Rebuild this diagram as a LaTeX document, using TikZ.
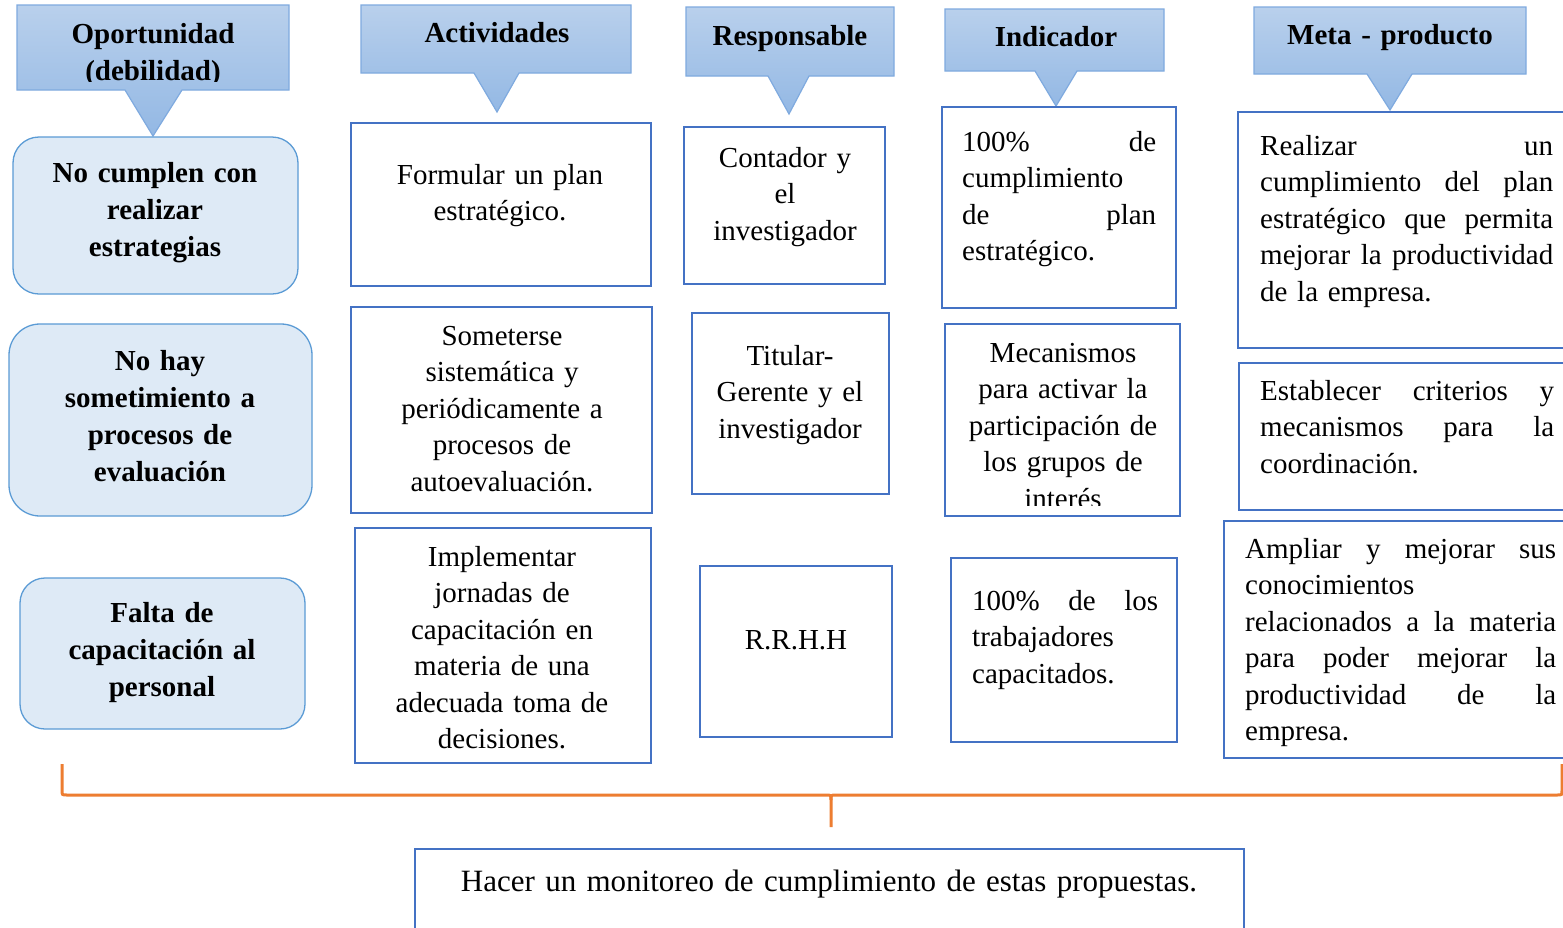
\documentclass[tikz,border=0pt]{standalone}
\usepackage{fontspec}
\setmainfont{Liberation Serif}
\usepackage{tikz}
\definecolor{hdrtop}{HTML}{B9D0EC}
\definecolor{hdrbot}{HTML}{93B8E4}
\definecolor{hdrline}{HTML}{7FAADF}
\definecolor{cardfill}{HTML}{DEEAF6}
\definecolor{cardline}{HTML}{5B9BD5}
\definecolor{boxline}{HTML}{4472C4}
\definecolor{bracecol}{HTML}{ED7D31}
\newcommand{\callout}[8]{\draw[hdr] (#1,#2) -- (#3,#2) -- (#3,#4) -- (#6,#4) -- (#7,#8) -- (#5,#4) -- (#1,#4) -- cycle;}

\begin{document}
\begin{tikzpicture}[x=1pt,y=-1pt,
  hdr/.style={draw=hdrline,line width=1.2pt,top color=hdrtop,bottom color=hdrbot},
  card/.style={draw=cardline,line width=1.3pt,fill=cardfill,rounded corners=26pt},
  box/.style={draw=boxline,line width=2.6pt},
  txt/.style={font=\fontsize{29}{36.5}\selectfont,inner sep=0pt,anchor=base,align=center,text width=290pt},
  ltxt/.style={txt,align=left,anchor=base west},
  hd/.style={txt,font=\fontsize{29}{37}\selectfont\bfseries}]
\useasboundingbox (0,0) rectangle (1563,927);
\clip (0,0) rectangle (1563,927);
\fill[white] (0,0) rectangle (1563,927);

\callout{17}{5}{289}{90}{125}{182}{153}{136}
\callout{361}{5}{631}{73}{474}{519}{497}{112}
\callout{686}{7}{894}{76}{768}{809}{789}{114}
\callout{945}{9}{1164}{71}{1035}{1077}{1056}{106}
\callout{1254}{7}{1526}{74}{1367}{1412}{1390}{110}
\begin{scope}
\clip (17,5) rectangle (289,81);
\node[hd] (opo) at (153,43) {Oportunidad\\(debilidad)};
\end{scope}
\node[hd] (act) at (497,42) {Actividades};
\node[hd] (res) at (790,45) {Responsable};
\node[hd] (ind) at (1056,46) {Indicador};
\node[hd] (met) at (1390,44) {Meta - producto};

\draw[card] (13,137) rectangle (298,294);
\node[hd] (deb1) at (155,182) {No cumplen con\\realizar\\estrategias};
\draw[card,rounded corners=31pt] (9,324) rectangle (312,516);
\node[hd] (deb2) at (160,370) {No hay\\sometimiento a\\procesos de\\evaluación};
\draw[card,rounded corners=25pt] (20,578) rectangle (305,729);
\node[hd] (deb3) at (162,622) {Falta de\\capacitación al\\personal};

\draw[box] (351,123) rectangle (651,286);
\node[txt] (act1) at (500,184) {Formular un plan\\estratégico.};
\draw[box] (351,307) rectangle (652,513);
\node[txt] (act2) at (502,345) {Someterse\\sistemática y\\periódicamente a\\procesos de\\autoevaluación.};
\draw[box] (355,528) rectangle (651,763);
\node[txt] (act3) at (502,566) {Implementar\\jornadas de\\capacitación en\\materia de una\\adecuada toma de\\decisiones.};

\draw[box] (684,127) rectangle (885,284);
\node[txt] (res1) at (785,167) {Contador y\\el\\investigador};
\draw[box] (692,313) rectangle (889,494);
\node[txt] (res2) at (790,365) {Titular-\\Gerente y el\\investigador};
\draw[box] (700,566) rectangle (892,737);
\node[txt] (res3) at (796,649) {R.R.H.H};

\draw[box] (942,107) rectangle (1176,308);
\node[ltxt,text width=194pt] (ind1) at (962,151) {100\%\hfill de\\cumplimiento\\de\hfill plan\\estratégico.};
\draw[box] (945,324) rectangle (1180,516);
\begin{scope}
\clip (945,324) rectangle (1180,505);
\node[txt] (ind2) at (1063,362) {Mecanismos\\para activar la\\participación de\\los grupos de\\interés};
\end{scope}
\draw[box] (951,558) rectangle (1177,742);
\node[ltxt,text width=186pt] (ind3) at (972,610) {100\%\hfill de\hfill los\\trabajadores\\capacitados.};

\draw[box] (1238,112) rectangle (1580,348);
\node[ltxt,text width=293pt] (met1) at (1260,155) {Realizar\hfill un\\cumplimiento\hfill del\hfill plan\\estratégico\hfill que\hfill permita\\mejorar\hfill la\hfill productividad\\de la empresa.};
\draw[box] (1239,363) rectangle (1580,510);
\node[ltxt,text width=294pt] (met2) at (1260,400) {Establecer\hfill criterios\hfill y\\mecanismos\hfill para\hfill la\\coordinación.};
\draw[box] (1224,521) rectangle (1580,758);
\node[ltxt,text width=311pt] (met3) at (1245,558) {Ampliar\hfill y\hfill mejorar\hfill sus\\conocimientos\\relacionados\hfill a\hfill la\hfill materia\\para\hfill poder\hfill mejorar\hfill la\\productividad\hfill de\hfill la\\empresa.};

\draw[bracecol,line width=3pt] (62,764) -- (62,790) .. controls (62,795) .. (67,795) -- (826,795)
  .. controls (831,795) .. (831,800) -- (831,827);
\draw[bracecol,line width=3pt] (831,800) .. controls (831,795) .. (836,795) -- (1557,795)
  .. controls (1562,795) .. (1562,790) -- (1562,764);

\draw[box] (415,849) rectangle (1244,945);
\node[txt,text width=800pt,font=\fontsize{31}{37}\selectfont] (mon) at (829,891) {Hacer un monitoreo de cumplimiento de estas propuestas.};
\end{tikzpicture}
\end{document}
